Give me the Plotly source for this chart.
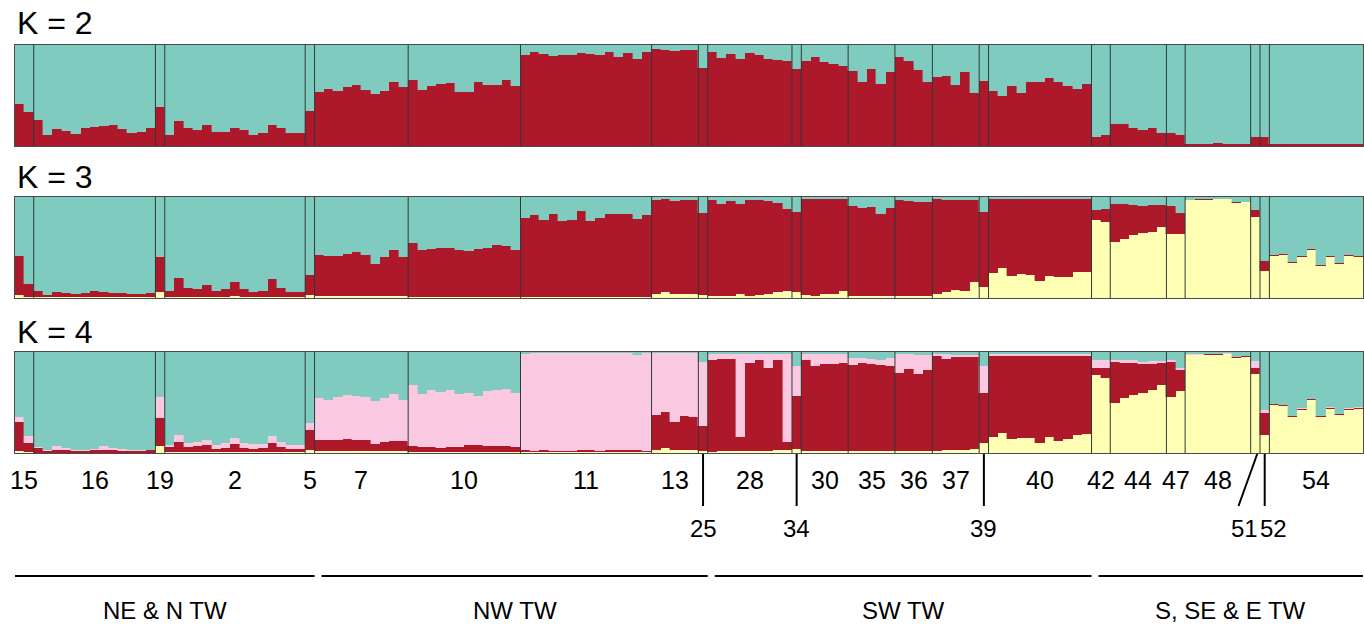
import plotly.graph_objects as go
import numpy as np

# ---------------- data ----------------
pops = ["15", "16", "19", "2", "5", "7", "10", "11", "13", "25", "28", "34", "30",
        "35", "36", "37", "39", "40", "42", "44", "47", "48", "51", "52", "54"]
counts = [2, 13, 1, 15, 1, 10, 12, 14, 5, 1, 9, 1, 5, 5, 4, 5, 1, 11, 2, 6, 2, 7, 1, 1, 10]
low_row = ["25", "34", "39", "51", "52"]
regions = ["NE & N TW", "NW TW", "SW TW", "S, SE & E TW"]
region_npops = [5, 5, 8, 7]
k_labels = ["K = 2", "K = 3", "K = 4"]

# K = 2 : red cluster (teal = remainder)
K2_red = [
    0.42, 0.34,
    0.26, 0.11, 0.17, 0.15, 0.12, 0.18, 0.19, 0.20, 0.21, 0.17, 0.13, 0.14, 0.18,
    0.39,
    0.11, 0.245, 0.18, 0.16, 0.21, 0.14, 0.14, 0.18, 0.16, 0.11, 0.13, 0.21, 0.18, 0.13, 0.13,
    0.35,
    0.53, 0.565, 0.54, 0.58, 0.60, 0.55, 0.51, 0.54, 0.63, 0.58,
    0.65, 0.55, 0.59, 0.61, 0.62, 0.53, 0.53, 0.63, 0.60, 0.60, 0.65, 0.59,
    0.90, 0.935, 0.91, 0.89, 0.90, 0.90, 0.925, 0.915, 0.90, 0.935, 0.885, 0.925, 0.86, 0.935,
    0.957, 0.948, 0.941, 0.951, 0.951,
    0.77,
    0.935, 0.876, 0.915, 0.86, 0.925, 0.90, 0.866, 0.85, 0.843,
    0.76,
    0.837, 0.882, 0.827, 0.81, 0.788,
    0.745, 0.63, 0.76, 0.614, 0.73,
    0.886, 0.837, 0.755, 0.637,
    0.686, 0.696, 0.608, 0.735, 0.523,
    0.647,
    0.549, 0.50, 0.59, 0.526, 0.637, 0.637, 0.67, 0.63, 0.59, 0.565, 0.614,
    0.09, 0.11,
    0.216, 0.222, 0.183, 0.163, 0.183, 0.13,
    0.13, 0.11,
    0.016, 0.016, 0.016, 0.03, 0.016, 0.016, 0.016,
    0.09,
    0.09,
    0.016, 0.016, 0.016, 0.02, 0.016, 0.016, 0.016, 0.016, 0.016, 0.02,
]

# K = 3 : yellow, red (teal = remainder)
K3_yellow = [
    0.026, 0.01,
    0.01, 0.01, 0.01, 0.01, 0.01, 0.01, 0.01, 0.01, 0.01, 0.01, 0.01, 0.01, 0.01,
    0.06,
    0.012, 0.01, 0.012, 0.01, 0.012, 0.01, 0.012, 0.02, 0.012, 0.01, 0.012, 0.01, 0.012, 0.01, 0.012,
    0.03,
    0.015, 0.015, 0.015, 0.015, 0.015, 0.015, 0.015, 0.015, 0.015, 0.015,
    0.01, 0.01, 0.01, 0.01, 0.01, 0.01, 0.01, 0.01, 0.01, 0.01, 0.01, 0.01,
    0.01, 0.01, 0.01, 0.01, 0.01, 0.01, 0.01, 0.01, 0.01, 0.01, 0.01, 0.01, 0.01, 0.01,
    0.036, 0.059, 0.042, 0.036, 0.036,
    0.025,
    0.016, 0.016, 0.016, 0.042, 0.02, 0.026, 0.042, 0.059, 0.065,
    0.059,
    0.026, 0.02, 0.036, 0.036, 0.065,
    0.02, 0.02, 0.02, 0.02, 0.02,
    0.016, 0.016, 0.016, 0.016,
    0.042, 0.059, 0.082, 0.065, 0.163,
    0.108,
    0.245, 0.294, 0.222, 0.239, 0.232, 0.167, 0.222, 0.206, 0.206, 0.255, 0.255,
    0.771, 0.752,
    0.559, 0.582, 0.624, 0.647, 0.657, 0.703,
    0.631, 0.631,
    0.967, 0.974, 0.974, 0.977, 0.977, 0.941, 0.948,
    0.804,
    0.271,
    0.418, 0.428, 0.343, 0.402, 0.477, 0.314, 0.402, 0.337, 0.418, 0.402,
]
K3_red = [
    0.39, 0.13,
    0.055, 0.023, 0.049, 0.039, 0.026, 0.039, 0.055, 0.049, 0.039, 0.039, 0.032, 0.032, 0.039,
    0.35,
    0.053, 0.184, 0.089, 0.079, 0.112, 0.060, 0.073, 0.138, 0.079, 0.053, 0.053, 0.178, 0.089, 0.053, 0.047,
    0.20,
    0.413, 0.403, 0.403, 0.42, 0.445, 0.41, 0.322, 0.393, 0.459, 0.387,
    0.539, 0.464, 0.474, 0.483, 0.49, 0.467, 0.457, 0.474, 0.483, 0.513, 0.50, 0.464,
    0.784, 0.807, 0.761, 0.817, 0.751, 0.761, 0.849, 0.751, 0.784, 0.817, 0.817, 0.817, 0.774, 0.807,
    0.938, 0.921, 0.922, 0.938, 0.938,
    0.815,
    0.958, 0.919, 0.941, 0.889, 0.954, 0.941, 0.915, 0.882, 0.817,
    0.797,
    0.954, 0.96, 0.941, 0.941, 0.915,
    0.888, 0.872, 0.882, 0.807, 0.872,
    0.951, 0.945, 0.935, 0.935,
    0.938, 0.915, 0.892, 0.909, 0.804,
    0.742,
    0.735, 0.686, 0.758, 0.741, 0.748, 0.813, 0.758, 0.774, 0.774, 0.725, 0.725,
    0.105, 0.13,
    0.372, 0.349, 0.301, 0.268, 0.268, 0.222,
    0.277, 0.206,
    0.007, 0.007, 0.007, 0.007, 0.007, 0.007, 0.007,
    0.072,
    0.098,
    0.01, 0.01, 0.01, 0.01, 0.01, 0.01, 0.01, 0.01, 0.01, 0.01,
]

# K = 4 : yellow, red, pink (teal = remainder)
K4_yellow = [
    0.02, 0.013,
    0.005, 0.005, 0.005, 0.005, 0.005, 0.005, 0.005, 0.005, 0.005, 0.005, 0.005, 0.005, 0.005,
    0.066,
    0.01, 0.01, 0.01, 0.01, 0.01, 0.01, 0.01, 0.01, 0.01, 0.01, 0.01, 0.01, 0.01, 0.01, 0.01,
    0.026,
    0.015, 0.015, 0.015, 0.015, 0.015, 0.015, 0.015, 0.015, 0.015, 0.015,
    0.01, 0.01, 0.01, 0.01, 0.01, 0.01, 0.01, 0.01, 0.01, 0.01, 0.01, 0.01,
    0.007, 0.007, 0.007, 0.007, 0.007, 0.007, 0.007, 0.007, 0.007, 0.007, 0.007, 0.007, 0.007, 0.007,
    0.026, 0.053, 0.033, 0.026, 0.026,
    0.02,
    0.01, 0.016, 0.016, 0.016, 0.016, 0.016, 0.016, 0.026, 0.026,
    0.043,
    0.016, 0.016, 0.016, 0.016, 0.016,
    0.016, 0.016, 0.016, 0.016, 0.016,
    0.016, 0.016, 0.016, 0.016,
    0.02, 0.026, 0.026, 0.026, 0.043,
    0.102,
    0.158, 0.198, 0.142, 0.152, 0.152, 0.102, 0.158, 0.119, 0.142, 0.175, 0.185,
    0.769, 0.743,
    0.495, 0.548, 0.578, 0.594, 0.627, 0.677,
    0.554, 0.611,
    0.967, 0.967, 0.974, 0.974, 0.977, 0.944, 0.95,
    0.785,
    0.175,
    0.472, 0.462, 0.356, 0.429, 0.521, 0.356, 0.439, 0.373, 0.429, 0.439,
]
K4_red = [
    0.287, 0.089,
    0.045, 0.015, 0.028, 0.021, 0.015, 0.015, 0.021, 0.028, 0.021, 0.015, 0.015, 0.015, 0.021,
    0.284,
    0.049, 0.099, 0.049, 0.056, 0.066, 0.033, 0.04, 0.082, 0.04, 0.033, 0.04, 0.089, 0.049, 0.033, 0.026,
    0.205,
    0.117, 0.117, 0.11, 0.127, 0.117, 0.11, 0.077, 0.094, 0.101, 0.101,
    0.056, 0.049, 0.049, 0.043, 0.049, 0.049, 0.066, 0.073, 0.056, 0.056, 0.056, 0.049,
    0.019, 0.013, 0.019, 0.013, 0.013, 0.013, 0.019, 0.019, 0.013, 0.019, 0.026, 0.026, 0.019, 0.013,
    0.354, 0.353, 0.274, 0.337, 0.33,
    0.247,
    0.907, 0.911, 0.918, 0.142, 0.878, 0.908, 0.829, 0.891, 0.083,
    0.518,
    0.901, 0.842, 0.862, 0.868, 0.875,
    0.852, 0.878, 0.868, 0.859, 0.842,
    0.779, 0.819, 0.763, 0.809,
    0.937, 0.908, 0.924, 0.924, 0.907,
    0.492,
    0.799, 0.759, 0.815, 0.805, 0.805, 0.855, 0.799, 0.838, 0.815, 0.782, 0.772,
    0.076, 0.102,
    0.406, 0.343, 0.313, 0.284, 0.251, 0.214,
    0.347, 0.214,
    0.007, 0.007, 0.007, 0.007, 0.007, 0.007, 0.007,
    0.06,
    0.221,
    0.01, 0.01, 0.01, 0.01, 0.01, 0.01, 0.01, 0.01, 0.01, 0.01,
]
K4_pink = [
    0.049, 0.063,
    0.009, 0.006, 0.033, 0.027, 0.006, 0.013, 0.017, 0.036, 0.024, 0.016, 0.006, 0.006, 0.007,
    0.204,
    0.024, 0.066, 0.04, 0.043, 0.049, 0.04, 0.049, 0.06, 0.052, 0.043, 0.036, 0.066, 0.05, 0.033, 0.047,
    0.066,
    0.413, 0.396, 0.429, 0.429, 0.429, 0.429, 0.423, 0.439, 0.465, 0.405,
    0.604, 0.522, 0.568, 0.551, 0.568, 0.528, 0.521, 0.478, 0.548, 0.554, 0.571, 0.535,
    0.959, 0.97, 0.964, 0.97, 0.97, 0.97, 0.964, 0.964, 0.97, 0.964, 0.957, 0.957, 0.944, 0.97,
    0.61, 0.584, 0.683, 0.627, 0.634,
    0.633,
    0.068, 0.058, 0.051, 0.827, 0.091, 0.061, 0.14, 0.068, 0.876,
    0.297,
    0.068, 0.127, 0.107, 0.101, 0.094,
    0.076, 0.05, 0.05, 0.042, 0.083,
    0.182, 0.142, 0.188, 0.142,
    0.023, 0.046, 0.024, 0.024, 0.024,
    0.264,
    0.023, 0.023, 0.023, 0.023, 0.023, 0.023, 0.023, 0.023, 0.023, 0.023, 0.023,
    0.072, 0.072,
    0.023, 0.026, 0.026, 0.023, 0.033, 0.02,
    0.016, 0.02,
    0.002, 0.002, 0.002, 0.002, 0.002, 0.002, 0.002,
    0.066,
    0.026,
    0.003, 0.003, 0.003, 0.003, 0.003, 0.003, 0.003, 0.003, 0.003, 0.003,
]

# ---------------- style ----------------
TEAL = "#80cbbf"
RED = "#ae182b"
YELLOW = "#ffffb3"
PINK = "#fbc8e1"
FONT = "Liberation Sans, Arial, sans-serif"
W, H = 1364, 627
ML, MR = 15, 1
panel_px = [(45, 146), (197, 298), (352, 453)]   # top, bottom pixel rows of panels
k_label_px = [23, 177, 332]


def py(p):
    return 1 - p / H


n_ind = sum(counts)
idx = np.arange(n_ind)
starts = np.concatenate([[0], np.cumsum(counts)[:-1]])
ends = np.cumsum(counts)
centers = starts + np.array(counts) / 2 - 0.5

panels = [
    [(np.array(K2_red), RED)],
    [(np.array(K3_yellow), YELLOW), (np.array(K3_red), RED)],
    [(np.array(K4_yellow), YELLOW), (np.array(K4_red), RED), (np.array(K4_pink), PINK)],
]

fig = go.Figure()
for p, comps in enumerate(panels):
    ax = "" if p == 0 else str(p + 1)
    total = np.zeros(n_ind)
    for vals, col in comps:
        total = total + vals
    comps = comps + [(np.clip(1 - total, 0, 1), TEAL)]
    for vals, col in comps:
        fig.add_trace(go.Bar(
            x=idx, y=vals, width=1, marker_color=col,
            marker_line_width=0.4, marker_line_color=col,
            xaxis="x" + ax, yaxis="y" + ax, showlegend=False, hoverinfo="skip"))

layout_axes = {}
for p, (top, bot) in enumerate(panel_px):
    ax = "" if p == 0 else str(p + 1)
    layout_axes["xaxis" + ax] = dict(
        domain=[0, 1], range=[-0.5, n_ind - 0.5], anchor="y" + ax,
        showticklabels=False, ticks="", showgrid=False, zeroline=False,
        showline=True, mirror=True, linecolor="#4a4a4a", linewidth=1.2)
    layout_axes["yaxis" + ax] = dict(
        domain=[py(bot), py(top)], range=[0, 1], anchor="x" + ax,
        showticklabels=False, ticks="", showgrid=False, zeroline=False,
        showline=True, mirror=True, linecolor="#4a4a4a", linewidth=1.2)

shapes = []
annotations = []
for p in range(3):
    ax = "" if p == 0 else str(p + 1)
    for b in ends[:-1]:
        shapes.append(dict(type="line", xref="x" + ax, yref="y" + ax + " domain",
                           x0=b - 0.5, x1=b - 0.5, y0=0, y1=1,
                           line=dict(color="#2e3a36", width=1)))
    annotations.append(dict(text=k_labels[p], xref="paper", yref="paper",
                            x=0, y=py(k_label_px[p]), xanchor="left", yanchor="middle",
                            showarrow=False, font=dict(family=FONT, size=32, color="black")))

# population labels
label_shift = {"51": -1.15, "52": 0.95}
line_bottom_shift = {"51": -1.8}
for name, c in zip(pops, centers):
    if name in low_row:
        annotations.append(dict(text=name, xref="x3", yref="paper",
                                x=c + label_shift.get(name, 0), y=py(528),
                                xanchor="center", yanchor="middle", showarrow=False,
                                font=dict(family=FONT, size=24, color="black")))
        shapes.append(dict(type="line", xref="x3", yref="paper",
                           x0=c + (0.2 if name == "51" else 0), y0=py(454),
                           x1=c + line_bottom_shift.get(name, 0), y1=py(506),
                           line=dict(color="black", width=2)))
    else:
        annotations.append(dict(text=name, xref="x3", yref="paper", x=c, y=py(480),
                                xanchor="center", yanchor="middle", showarrow=False,
                                font=dict(family=FONT, size=25, color="black")))

# region lines and labels
pi = 0
for r, (rname, npop) in enumerate(zip(regions, region_npops)):
    x0 = starts[pi] - 0.5 + (0.75 if r > 0 else 0)
    x1 = ends[pi + npop - 1] - 0.5
    shapes.append(dict(type="line", xref="x3", yref="paper", x0=x0, x1=x1,
                       y0=py(576), y1=py(576), line=dict(color="black", width=2)))
    annotations.append(dict(text=rname, xref="x3", yref="paper", x=(x0 + x1) / 2,
                            y=py(610), xanchor="center", yanchor="middle", showarrow=False,
                            font=dict(family=FONT, size=24, color="black")))
    pi += npop

fig.update_layout(
    width=W, height=H, margin=dict(l=ML, r=MR, t=0, b=0),
    paper_bgcolor="white", plot_bgcolor="white",
    barmode="stack", bargap=0, shapes=shapes, annotations=annotations,
    **layout_axes)

fig.write_html("out.html")
